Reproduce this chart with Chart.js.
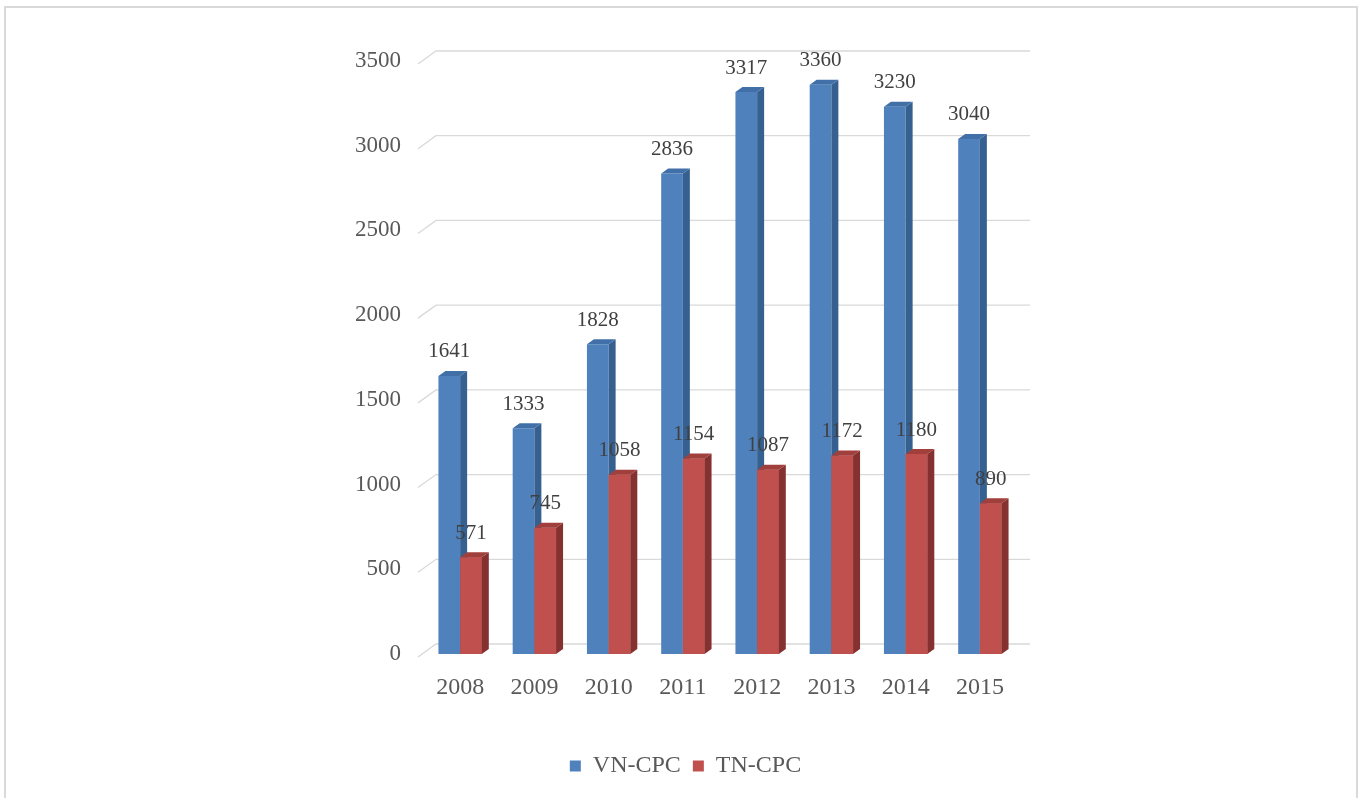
<!DOCTYPE html>
<html>
<head>
<meta charset="utf-8">
<script src="https://cdn.jsdelivr.net/npm/chart.js@4"></script>
<style>
  body { margin: 0; background: #fff; }
  #wrap { position: relative; width: 1359px; height: 798px; overflow: hidden; }
  #frame { position: absolute; left: 4px; top: 6px; width: 1350px; height: 820px; border: 2px solid #d9d9d9; }
  canvas { position: absolute; left: 0; top: 0; }
</style>
</head>
<body>
<div id="wrap">
  <div id="frame"></div>
  <canvas id="chart" width="1359" height="798"></canvas>
</div>
<script>
var years = ['2008', '2009', '2010', '2011', '2012', '2013', '2014', '2015'];
var vnCpc = [1641, 1333, 1828, 2836, 3317, 3360, 3230, 3040];
var tnCpc = [571, 745, 1058, 1154, 1087, 1172, 1180, 890];
var yTicks = [0, 500, 1000, 1500, 2000, 2500, 3000, 3500];

var serif = "'Liberation Serif', 'Times New Roman', serif";
var depthX = 7, depthY = 5;

// back wall gridlines with the little 3D floor diagonal
var gridPlugin = {
    id: 'grid3d',
    beforeDatasetsDraw: function (chart) {
        var ctx = chart.ctx;
        var area = chart.chartArea;
        var y = chart.scales.y;
        ctx.save();
        ctx.strokeStyle = '#d9d9d9';
        ctx.lineWidth = 1.3;
        yTicks.forEach(function (v) {
            var py = y.getPixelForValue(v);
            ctx.beginPath();
            ctx.moveTo(area.left - 5, py + 3);
            ctx.lineTo(area.left + 13, py - 10);
            ctx.lineTo(area.right + 13, py - 10);
            ctx.stroke();
        });
        ctx.restore();
    }
};

// side + top faces, and value labels
var barPlugin = {
    id: 'bars3d',
    afterDatasetsDraw: function (chart) {
        var ctx = chart.ctx;
        var sideColors = ['#36608f', '#85312f'];
        var topColors = ['#4170a8', '#a13f3c'];
        [0, 1].forEach(function (di) {
            var meta = chart.getDatasetMeta(di);
            meta.data.forEach(function (bar) {
                if (di === 1) bar.draw(ctx);
                var l = bar.x - bar.width / 2, r = bar.x + bar.width / 2;
                ctx.save();
                ctx.fillStyle = sideColors[di];
                ctx.beginPath();
                ctx.moveTo(r, bar.y);
                ctx.lineTo(r + depthX, bar.y - depthY);
                ctx.lineTo(r + depthX, bar.base - depthY);
                ctx.lineTo(r, bar.base);
                ctx.closePath();
                ctx.fill();
                ctx.fillStyle = topColors[di];
                ctx.beginPath();
                ctx.moveTo(l, bar.y);
                ctx.lineTo(l + depthX, bar.y - depthY);
                ctx.lineTo(r + depthX, bar.y - depthY);
                ctx.lineTo(r, bar.y);
                ctx.closePath();
                ctx.fill();
                ctx.restore();
            });
        });
        ctx.save();
        ctx.font = '21px ' + serif;
        ctx.fillStyle = '#404040';
        ctx.textAlign = 'center';
        ctx.textBaseline = 'middle';
        [0, 1].forEach(function (di) {
            var meta = chart.getDatasetMeta(di);
            var vals = chart.data.datasets[di].data;
            meta.data.forEach(function (bar, i) {
                ctx.fillText(String(vals[i]), bar.x, bar.y - 24);
            });
        });
        ctx.restore();
    }
};

var ctx = document.getElementById('chart').getContext('2d');
var chart = new Chart(ctx, {
    type: 'bar',
    data: {
        labels: years,
        datasets: [
            { label: 'VN-CPC', data: vnCpc, backgroundColor: '#4f81bd' },
            { label: 'TN-CPC', data: tnCpc, backgroundColor: '#c0504d' }
        ]
    },
    options: {
        responsive: false,
        animation: false,
        datasets: {
            bar: { categoryPercentage: 0.584, barPercentage: 1 }
        },
        layout: {
            padding: { left: 12, right: 0, top: 61, bottom: 10 }
        },
        plugins: {
            tooltip: { enabled: false },
            legend: {
                position: 'bottom',
                labels: {
                    boxWidth: 11,
                    boxHeight: 11,
                    padding: 12,
                    color: '#595959',
                    font: { family: serif, size: 24 }
                }
            }
        },
        scales: {
            x: {
                grid: { display: false, drawTicks: false },
                border: { display: false },
                ticks: {
                    color: '#595959',
                    padding: 19,
                    font: { family: serif, size: 24 }
                },
                afterFit: function (scale) { scale.height = 88; }
            },
            y: {
                min: 0,
                max: 3500,
                grid: { display: false, drawTicks: false },
                border: { display: false },
                afterBuildTicks: function (scale) {
                    scale.ticks = yTicks.map(function (v) { return { value: v }; });
                },
                ticks: {
                    color: '#595959',
                    padding: 22,
                    font: { family: serif, size: 23 },
                    callback: function (v) { return String(v); }
                },
                afterFit: function (scale) { scale.width = 411; }
            },
            y2: {
                position: 'right',
                display: true,
                grid: { display: false, drawTicks: false },
                border: { display: false },
                ticks: { display: false },
                afterFit: function (scale) { scale.width = 342; }
            }
        }
    },
    plugins: [gridPlugin, barPlugin]
});
</script>
</body>
</html>
